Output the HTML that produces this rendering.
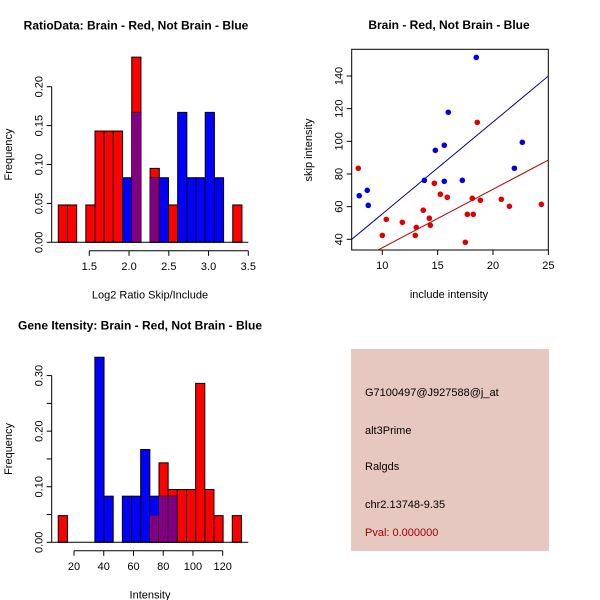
<!DOCTYPE html>
<html><head><meta charset="utf-8"><style>
body{margin:0;background:#fff}
svg{display:block;font-family:"Liberation Sans",Arial,sans-serif}
</style></head><body>
<svg id="s" width="600" height="600" viewBox="0 0 600 600" xmlns="http://www.w3.org/2000/svg">
<g id="p1"></g>
<g id="p2"></g>
<g id="p3"></g>
<g id="p4">
<rect x="351" y="349" width="198" height="202" fill="#e6c8c1"/>
<g font-size="11" fill="#000">
<text x="365" y="396">G7100497@J927588@j_at</text>
<text x="365" y="434">alt3Prime</text>
<text x="365" y="470">Ralgds</text>
<text x="365" y="508">chr2.13748-9.35</text>
<text x="365" y="536" fill="#a00000">Pval: 0.000000</text>
</g></g>
</svg>
<script>
// Panel 1 data
const h1Start = 1.11, h1Width = 0.1155;
const h1Red  = [0.048,0.048,0,0.048,0.143,0.143,0.143,0,0.238,0,0.095,0,0.048,0,0,0,0,0,0,0.048];
const h1Blue = [0,0,0,0,0,0,0,0.083,0.167,0,0.083,0.083,0,0.167,0.083,0.083,0.167,0.083,0,0];
const h1XTicks = ["1.5","2.0","2.5","3.0","3.5"];
const h1YTicks = ["0.00","0.05","0.10","0.15","0.20"];
// Panel 2 data
const blueX = [7.92,8.64,8.73,13.8,14.79,15.6,15.6,15.96,17.23,18.49,21.93,22.65];
const blueY = [66.7,70,60.8,76.1,94.5,97.6,75.5,117.8,76.1,151.4,83.5,99.4];
const redX = [7.83,10,10.36,11.81,12.98,13.07,13.7,14.25,14.34,14.7,15.24,15.87,17.5,17.68,18.22,18.13,18.58,18.86,20.75,21.48,24.37];
const redY = [83.5,42.4,52.2,50.4,42.4,47.3,57.8,52.9,48.6,74.3,67.6,65.7,38.2,55.3,55.3,65.1,111.6,63.9,64.5,60.2,61.4];
const blueFit = [-0.77,5.63];
const redFit = [-0.98,3.58];
const sXTicks = [10,15,20,25];
const sYTicks = [40,60,80,100,120,140];
// Panel 3 data
const h3Start = 9.4, h3Width = 6.16;
const h3Red  = [0.048,0,0,0,0,0,0,0,0,0,0.048,0.143,0.095,0.095,0.095,0.286,0.095,0.048,0,0.048];
const h3Blue = [0,0,0,0,0.333,0.083,0,0.083,0.083,0.167,0.083,0.083,0.083,0,0,0,0,0,0,0];
const h3XTicks = ["20","40","60","80","100","120"];
const h3YTicks = ["0.00","","0.10","","0.20","","0.30"];
const h3YVals = [0,0.05,0.10,0.15,0.20,0.25,0.30];

const NS="http://www.w3.org/2000/svg";
function mk(parent,tag,attrs,txt){const e=document.createElementNS(NS,tag);for(const k in attrs)e.setAttribute(k,attrs[k]);if(txt!==undefined)e.textContent=txt;parent.appendChild(e);return e;}

function hist(g,start,w,red,blue,xs,ys,yVals,yTxt,xTicks,title,xlab,tx){
  const n=red.length;
  for(let i=0;i<n;i++){
    const x0=xs(start+i*w),x1=xs(start+(i+1)*w);
    const r=red[i],b=blue[i],m=Math.min(r,b);
    if(r>0){const e=mk(g,'rect',{x:x0,y:ys(r),width:x1-x0,height:ys(0)-ys(r),fill:'#ff0000',stroke:'#000','stroke-width':1});
      }
    if(b>0){const e=mk(g,'rect',{x:x0,y:ys(b),width:x1-x0,height:ys(0)-ys(b),fill:'#0000ff',stroke:'#000','stroke-width':1});
      }
    if(m>0){const e=mk(g,'rect',{x:x0,y:ys(m),width:x1-x0,height:ys(0)-ys(m),fill:'#800080',stroke:'none'});
      }
  }
  const base=ys(0);
  const bl=mk(g,'line',{x1:51.7,x2:248.3,y1:base,y2:base,stroke:'#000'});
  
  const ax=base+8.5;
  const xv=xTicks.map(Number);
  mk(g,'line',{x1:xs(xv[0]),x2:xs(xv[xv.length-1]),y1:ax,y2:ax,stroke:'#000'});
  xTicks.forEach((s,i)=>{const v=xv[i];mk(g,'line',{x1:xs(v),x2:xs(v),y1:ax,y2:ax+5,stroke:'#000'});
    const t=mk(g,'text',{x:xs(v),y:ax+19,'text-anchor':'middle','font-size':11},s);
    });
  const ay=51.7;
  mk(g,'line',{x1:ay,x2:ay,y1:ys(yVals[0]),y2:ys(yVals[yVals.length-1]),stroke:'#000'});
  yVals.forEach((v,i)=>{mk(g,'line',{x1:ay-5,x2:ay,y1:ys(v),y2:ys(v),stroke:'#000'});
    if(yTxt[i]){const t=mk(g,'text',{x:ay-9,y:ys(v),'text-anchor':'middle','font-size':11,transform:`rotate(-90 ${ay-9} ${ys(v)})`},yTxt[i]);
    }});
  const tt=mk(g,'text',{x:tx,y:base-213,'text-anchor':'middle','font-size':12,'font-weight':'bold'},title);
  
  const xl=mk(g,'text',{x:150,y:base+56,'text-anchor':'middle','font-size':11},xlab);
  
  const ym=(base+ys(yVals[yVals.length-1]))/2-10;
  const yl=mk(g,'text',{x:12,y:ym,'text-anchor':'middle','font-size':11,transform:`rotate(-90 12 ${ym})`},'Frequency');
  
}
{
  const xs=v=>89.3+(v-1.5)*79.5, ys=v=>242.3-v*778;
  hist(document.getElementById('p1'),h1Start,h1Width,h1Red,h1Blue,xs,ys,h1YTicks.map(Number),h1YTicks,h1XTicks,'RatioData: Brain - Red, Not Brain - Blue','Log2 Ratio Skip/Include',136);
}
{
  const xs=v=>74+(v-20)*1.487, ys=v=>542.3-v*555.7;
  hist(document.getElementById('p3'),h3Start,h3Width,h3Red,h3Blue,xs,ys,h3YVals,h3YTicks,h3XTicks,'Gene Itensity: Brain - Red, Not Brain - Blue','Intensity',140);
}
{
  const g=document.getElementById('p2');
  const xs=v=>382.3+(v-10)*11.07, ys=v=>239.3-(v-40)*1.633;
  const L=351.7,R=548.3,T=49.3,B=250;
  const f=mk(g,'rect',{x:L,y:T,width:R-L,height:B-T,fill:'none',stroke:'#000'});
  
  const cp=mk(g,'clipPath',{id:'cp'});mk(cp,'rect',{x:L,y:T,width:R-L,height:B-T});
  const xmin=(L-382.3)/11.07+10, xmax=(R-382.3)/11.07+10;
  [[blueFit,'#00008b','blue-fit-line'],[redFit,'#b00000','red-fit-line']].forEach(([c,col,nm])=>{
    const e=mk(g,'line',{x1:xs(xmin),y1:ys(c[0]+c[1]*xmin),x2:xs(xmax),y2:ys(c[0]+c[1]*xmax),stroke:col,'stroke-width':1,'clip-path':'url(#cp)'});
    });
  blueX.forEach((x,i)=>{const e=mk(g,'circle',{cx:xs(x),cy:ys(blueY[i]),r:2.8,fill:'#0000dd'});
    });
  redX.forEach((x,i)=>{const e=mk(g,'circle',{cx:xs(x),cy:ys(redY[i]),r:2.8,fill:'#dd0000'});
    });
  sXTicks.forEach(v=>{mk(g,'line',{x1:xs(v),x2:xs(v),y1:B,y2:B+5,stroke:'#000'});
    const t=mk(g,'text',{x:xs(v),y:B+19,'text-anchor':'middle','font-size':11},String(v));
    });
  sYTicks.forEach(v=>{mk(g,'line',{x1:L-5,x2:L,y1:ys(v),y2:ys(v),stroke:'#000'});
    const t=mk(g,'text',{x:L-9,y:ys(v),'text-anchor':'middle','font-size':11,transform:`rotate(-90 ${L-9} ${ys(v)})`},String(v));
    });
  const tt=mk(g,'text',{x:449,y:29,'text-anchor':'middle','font-size':12,'font-weight':'bold'},'Brain - Red, Not Brain - Blue');
  
  const xl=mk(g,'text',{x:449,y:298,'text-anchor':'middle','font-size':11},'include intensity');
  
  const yl=mk(g,'text',{x:312,y:150,'text-anchor':'middle','font-size':11,transform:'rotate(-90 312 150)'},'skip intensity');
  
}
</script>
</body></html>
